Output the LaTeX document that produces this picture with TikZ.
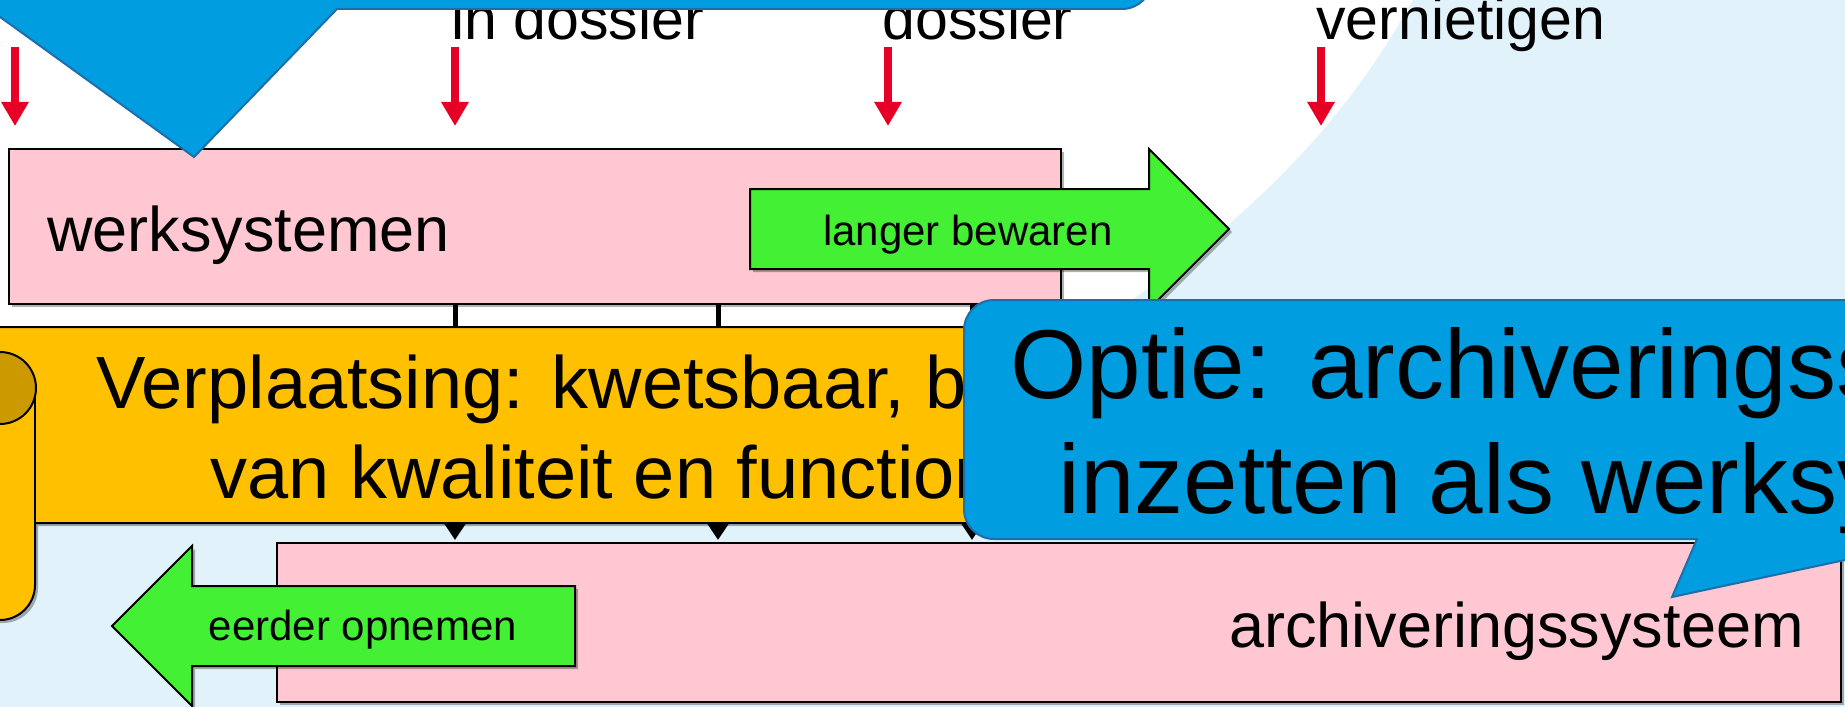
\documentclass[tikz,border=0pt]{standalone}
\usepackage{fontspec}
\setmainfont{Liberation Sans}
\usetikzlibrary{arrows.meta,shadows}
\definecolor{bgblue}{RGB}{225,242,250}
\definecolor{boxpink}{RGB}{255,199,209}
\definecolor{arrowgreen}{RGB}{67,240,52}
\definecolor{markred}{RGB}{230,0,38}
\definecolor{scrollyellow}{RGB}{255,192,0}
\definecolor{scrollcurl}{RGB}{204,153,0}
\definecolor{calloutblue}{RGB}{0,158,224}
\definecolor{calloutedge}{RGB}{30,110,170}
\begin{document}
\begin{tikzpicture}[x=0.5pt, y=-0.5pt,
    softshadow/.style={drop shadow={shadow xshift=1.5pt, shadow yshift=-1.5pt, opacity=.3, fill=black}},
    sysbox/.style={draw=black, line width=1pt, fill=boxpink, inner sep=0pt, softshadow},
    greenarrow/.style={draw=black, line width=1pt, fill=arrowgreen, softshadow},
    redmark/.style={draw=markred, line width=4pt, -{Triangle[width=13pt, length=12pt]}},
    flowline/.style={draw=black, line width=2.5pt, -{Triangle[width=10pt, length=8pt]}},
    callout/.style={draw=calloutedge, line width=1pt, fill=calloutblue},
    bigtext/.style={font=\fontsize{31.5pt}{37pt}\selectfont, inner sep=0pt},
    toptext/.style={font=\fontsize{29.5pt}{35pt}\selectfont, inner sep=0pt, anchor=base west},
    smalltext/.style={font=\fontsize{21pt}{25pt}\selectfont, inner sep=0pt, anchor=base},
    scrolltext/.style={font=\fontsize{37pt}{45pt}\selectfont, inner sep=0pt, anchor=base west},
    optietext/.style={font=\fontsize{49pt}{58pt}\selectfont, inner sep=0pt, anchor=base}]
    \useasboundingbox (0,0) rectangle (1845,706);
    \clip (0,0) rectangle (1845,706);

    % Fondo azul claro
    \fill[bgblue] (1418,-10) .. controls (1360,100) and (1276,197) .. (1136,297)
        -- (1000,380) -- (-20,380) -- (-20,720) -- (1860,720) -- (1860,-10) -- cycle;

    % Werksystemen
    \node[sysbox, minimum width=526pt, minimum height=77.5pt] (werk) at (535,226.5) {};
    \node[bigtext, anchor=base west] (werklabel) at (47,251) {werksystemen};

    % Flecha verde: langer bewaren
    \draw[greenarrow] (750,189) -- (1149,189) -- (1149,149) -- (1229,229)
        -- (1149,309) -- (1149,269) -- (750,269) -- cycle;
    \node[smalltext] (langer) at (968,245) {langer bewaren};

    % Flechas rojas y etiquetas
    \foreach \name/\xpos in {r1/15, r2/455, r3/888, r4/1321}
        \coordinate (\name) at (\xpos,47);
    \foreach \name in {r1, r2, r3, r4}
        \draw[redmark, shorten >=11pt] (\name) -- (\name |- werk.north);
    \node[toptext] (opnemen) at (451,40) {in dossier};
    \node[toptext] (dossier) at (882,40) {dossier};
    \node[toptext] (vernietigen) at (1316,40) {vernietigen};

    % Archiveringssysteem
    \node[sysbox, minimum width=782pt, minimum height=79.5pt] (archief) at (1059,622.5) {};
    \node[bigtext, anchor=base east] (archieflabel) at (1804,647) {archiveringssysteem};

    % Verbindingen
    \foreach \name/\xpos in {c1/455, c2/718, c3/972} {
        \coordinate (\name) at (\xpos,0);
        \draw[flowline, shorten >=1pt] (werk.south -| \name) -- (archief.north -| \name);
    }

    % Rollo amarillo
    \draw[fill=scrollyellow, line width=1pt, softshadow] (-40,327) -- (1320,327) -- (1320,523)
        -- (35,523) -- (35,585) .. controls (35,604.3) and (19.3,620) .. (0,620)
        -- (-40,620) -- cycle;
    \draw[line width=1pt] (35,388) -- (35,523);
    \draw[fill=scrollcurl, line width=1pt] (0,388) circle[radius=36];
    \node[scrolltext] (verpl1) at (96,408) {Verplaatsing: kwetsbaar, bedreiging};
    \node[scrolltext] (verpl2) at (210,498) {van kwaliteit en functionaliteit};

    % Flecha verde: eerder opnemen
    \draw[greenarrow] (575,586) -- (192,586) -- (192,546) -- (112,626)
        -- (192,706) -- (192,666) -- (575,666) -- cycle;
    \node[smalltext] (eerder) at (363,640) {eerder opnemen};

    % Globo azul arriba
    \draw[callout] (-60,-100) -- (-60,9) -- (-11,9) -- (194,157) -- (337,9) -- (1122,9)
        .. controls (1138.6,9) and (1152,-4.4) .. (1152,-21) -- (1152,-100) -- cycle;

    % Globo azul: optie
    \draw[callout] (994,300) -- (2250,300) -- (2250,539) -- (1943,539) -- (1672,597)
        -- (1697,539) -- (994,539) .. controls (977.4,539) and (964,525.6) .. (964,509)
        -- (964,330) .. controls (964,313.4) and (977.4,300) .. (994,300) -- cycle;
    \node[optietext] (optie1) at (1606,398) {Optie: archiveringssysteem};
    \node[optietext] (optie2) at (1606,513) {inzetten als werksysteem};
\end{tikzpicture}
\end{document}
